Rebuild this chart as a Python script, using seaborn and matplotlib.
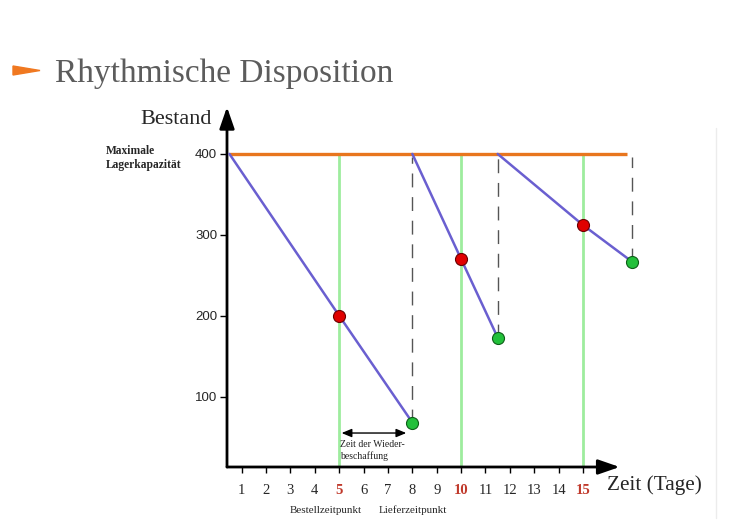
import pandas as pd
import matplotlib.pyplot as plt
import seaborn as sns
from matplotlib.patches import Polygon
from matplotlib.lines import Line2D

# Daten (Tage / Bestand)
capacity = 400
start_day = [0.5, 8, 11.5]
order_day = [5, 10, 15]
order_stock = [200, 270, 312]
delivery_day = [8, 11.5, 17]
delivery_stock = [68, 173, 267]
day_ticks = list(range(1, 16))
stock_ticks = [100, 200, 300, 400]
highlight_days = [5, 10, 15]

rows = []
for i in range(3):
    rows.append({'cycle': i, 'day': start_day[i], 'stock': capacity})
    rows.append({'cycle': i, 'day': order_day[i], 'stock': order_stock[i]})
    rows.append({'cycle': i, 'day': delivery_day[i], 'stock': delivery_stock[i]})
df = pd.DataFrame(rows)

sns.set_style("white")
plt.rcParams['font.family'] = ['Liberation Serif', 'DejaVu Serif']

fig = plt.figure(figsize=(7.5, 5.29), dpi=100)
W, H = 750, 529
ax = fig.add_axes([227 / W, 1 - 467 / H, (644 - 227) / W, (467 - 107) / H])
ax.set_xlim(0.4, 17.5)
ax.set_ylim(13, 458)

# Kapazitaetslinie
ax.hlines(capacity, 0.49, 16.8, color='#e8761e', lw=2.4, zorder=3)
# Bestellzeitpunkte
ax.vlines(order_day, 13, capacity, color='#9eec9e', lw=2.0, zorder=1)
# Lieferzeitpunkte
ax.vlines(delivery_day, delivery_stock, capacity - 4, color='#555555', lw=1,
          linestyles=(0, (10, 7)), zorder=1)

sns.lineplot(data=df, x='day', y='stock', units='cycle', estimator=None,
             sort=False, color='#6a5fd0', lw=1.8, ax=ax, zorder=4)
sns.scatterplot(x=order_day, y=order_stock, color='#e00000', edgecolor='#6a0000',
                linewidth=0.8, s=75, ax=ax, zorder=5, clip_on=False)
sns.scatterplot(x=delivery_day, y=delivery_stock, color='#22c03a', edgecolor='#0e5e18',
                linewidth=0.8, s=75, ax=ax, zorder=5, clip_on=False)

# Achsen mit Pfeilen
for s in ax.spines.values():
    s.set_visible(False)
arrow = dict(arrowstyle='-|>,head_length=1.3,head_width=0.45', lw=2, color='black',
             shrinkA=0, shrinkB=0, mutation_scale=10)
ax.annotate('', xy=(0.4, 458), xytext=(0.4, 13), arrowprops=arrow, annotation_clip=False)
ax.annotate('', xy=(16.5, 13), xytext=(0.4, 13), arrowprops=arrow, annotation_clip=False)

ax.set_xticks(day_ticks)
ax.set_xticklabels([str(d) for d in day_ticks])
ax.tick_params(axis='x', direction='out', length=4, width=1, pad=8, labelsize=10.5,
               bottom=True, color='black')
for lab, d in zip(ax.get_xticklabels(), day_ticks):
    if d in highlight_days:
        lab.set_color('#c0392b')
        lab.set_fontweight('bold')
ax.set_yticks(stock_ticks)
ax.tick_params(axis='y', direction='out', length=5, width=1, pad=2, labelsize=9.5,
               left=True, color='black')
for lab in ax.get_yticklabels():
    lab.set_family(['Liberation Sans', 'DejaVu Sans'])
ax.set_xlabel('')
ax.set_ylabel('')

# Wiederbeschaffungszeit
ax.annotate('', xy=(delivery_day[0] - 0.25, 55), xytext=(order_day[0] + 0.1, 55),
            arrowprops=dict(arrowstyle='<|-|>,head_length=0.6,head_width=0.25', lw=1,
                            color='black', shrinkA=0, shrinkB=0, mutation_scale=10))
ax.text(order_day[0] + 0.02, 46, 'Zeit der Wieder-\nbeschaffung', fontsize=7,
        va='top', ha='left', color='#222222', linespacing=1.25)

# Beschriftungen
fig.text(55 / W, 1 - 82 / H, 'Rhythmische Disposition', fontsize=24, color='#5c5c5c',
         va='baseline', ha='left')
fig.patches.append(Polygon([(13 / W, 1 - 66 / H), (13 / W, 1 - 75 / H), (40 / W, 1 - 70.5 / H)],
                           closed=True, transform=fig.transFigure, color='#f07820'))
fig.text(212 / W, 1 - 124 / H, 'Bestand', fontsize=16, ha='right', va='baseline')
fig.text(106 / W, 1 - 145 / H, 'Maximale\nLagerkapazität', fontsize=8.3,
         fontweight='bold', ha='left', va='top', linespacing=1.25)
fig.text(607 / W, 1 - 490 / H, 'Zeit (Tage)', fontsize=15.3, ha='left', va='baseline')
fig.text(326 / W, 1 - 513 / H, 'Bestellzeitpunkt', fontsize=7.9, ha='center', va='baseline')
fig.text(413 / W, 1 - 513 / H, 'Lieferzeitpunkt', fontsize=7.9, ha='center', va='baseline')
fig.lines.append(Line2D([716 / W, 716 / W], [1 - 128 / H, 1 - 518 / H],
                        transform=fig.transFigure, color='#ececec', lw=1))

plt.savefig('out.png', dpi=100)
